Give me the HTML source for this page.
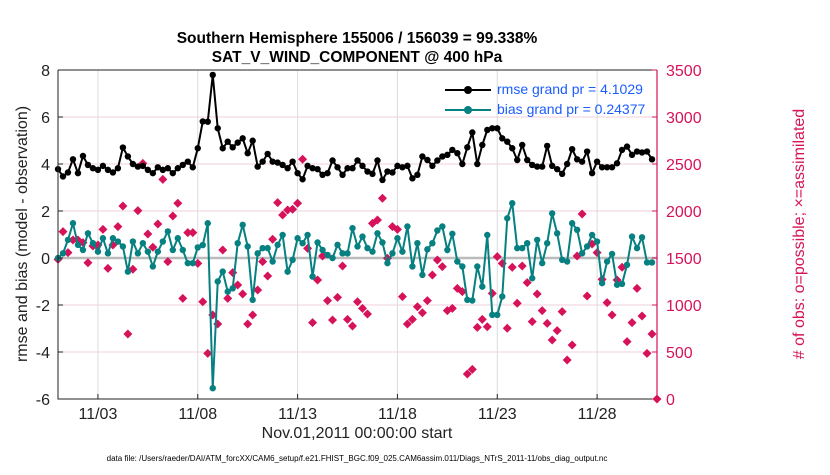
<!DOCTYPE html>
<html><head><meta charset="utf-8"><style>
body{margin:0;background:#fff;width:830px;height:470px;overflow:hidden;font-family:"Liberation Sans",sans-serif}
</style></head><body>
<svg id="c" width="830" height="470" xmlns="http://www.w3.org/2000/svg"></svg>
<script>
const xTickLabels=["11/03","11/08","11/13","11/18","11/23","11/28"];
const xTickDays=[2,7,12,17,22,27];
const yLeftTicks=[-6,-4,-2,0,2,4,6,8];
const yRightTicks=[0,500,1000,1500,2000,2500,3000,3500];
const rmse=[3.78,3.47,3.64,4.20,3.61,4.34,3.96,3.82,3.75,3.92,3.75,3.64,3.82,4.70,4.32,4.00,3.89,3.92,3.75,3.61,3.86,3.75,3.82,3.61,3.82,3.96,4.10,3.86,4.67,5.81,5.8,7.79,5.52,4.67,4.95,4.71,4.91,5.09,4.46,4.99,3.89,4.10,4.43,4.10,4.06,3.96,3.82,4.10,3.61,3.35,3.92,3.82,3.78,3.54,3.61,4.15,3.86,3.54,3.82,3.82,4.15,3.92,3.68,3.58,4.15,3.32,3.68,3.64,3.92,3.86,3.92,3.39,3.54,4.32,4.17,3.92,4.15,4.32,4.39,4.60,4.46,4.00,4.71,5.34,4.00,4.81,5.45,5.52,5.52,5.09,4.95,4.67,4.17,4.81,4.17,3.96,3.89,3.89,4.77,3.92,3.78,3.58,4.00,4.63,4.20,4.10,4.53,3.61,4.10,3.86,3.86,3.86,4.03,4.60,4.74,4.39,4.53,4.49,4.53,4.20];
const bias=[0,0.2,0.77,1.48,0.56,0.34,1.05,0.63,0.27,0.84,0.2,0.84,0.7,0.49,-0.58,0.7,0.2,0.63,0.27,-0.36,0.27,0.7,1.13,0.34,0.84,0.34,-0.22,-0.22,0.45,0.55,1.48,-5.54,-1.0,-0.58,-1.43,-1.29,0.63,1.41,0.49,-1.78,0.2,0.42,0.42,-0.15,0.56,0.98,-0.58,-0.08,0.84,0.63,0.98,-0.79,0.66,0.34,0.13,0,0.56,0.2,0.2,1.27,0.49,0.91,0.42,0.27,1.05,0.66,-0.22,0.2,0.84,0.27,1.34,-0.36,0.63,-0.72,0.37,0.63,1.17,1.34,0.34,1.03,-0.15,-0.36,-1.78,-1.81,-0.36,-1.22,0.98,-2.42,-2.42,-1.64,1.69,2.33,0.42,0.42,0.63,-0.86,0.77,-0.22,0.63,1.9,1.05,-0.08,-0.15,1.48,1.2,0.2,0.49,0.98,0.7,-1.07,-0.15,0.17,-1.14,-1.1,-0.29,0.91,0.42,0.88,-0.19,-0.19];
const obs=[1486,1780,1557,1692,1692,1663,1450,1628,1638,1805,1390,1638,1834,2053,691,1380,2004,2507,1755,1614,1862,2337,1461,1947,2082,1071,1770,1770,1443,1035,486,894,798,1585,1071,1344,1213,1117,798,894,1160,1461,1308,1699,2089,1958,2011,2018,2082,2550,1603,812,1266,1521,1046,840,1081,1415,847,776,1035,964,904,1869,1904,2135,1497,1834,1805,1089,798,847,982,918,1046,1319,1479,1408,940,964,1177,1142,266,315,762,847,769,1124,1514,1443,752,1401,1018,1415,1238,823,1117,940,805,627,727,929,415,574,1521,1968,1096,1649,1557,1273,1025,894,1266,1401,610,812,1177,883,486,691,0];
const X0=58,X1=657,Y0=399,Y1=70;
const xs=d=>X0+d*(X1-X0)/30;
const yL=v=>Y0-(v+6)*(Y0-Y1)/14;
const yR=v=>Y0-v*(Y0-Y1)/3500;
const svg=document.getElementById('c');const NS='http://www.w3.org/2000/svg';
function mk(t,a,p){const e=document.createElementNS(NS,t);for(const k in a)e.setAttribute(k,a[k]);(p||svg).appendChild(e);return e;}
yLeftTicks.forEach(v=>{const l=mk('line',{x1:X0,x2:X1,y1:yL(v),y2:yL(v),stroke:'#f0d0dc','stroke-width':1});

});
xTickDays.forEach(d=>{const l=mk('line',{x1:xs(d),x2:xs(d),y1:Y1,y2:Y0,stroke:'#dcdcdc','stroke-width':1});

});
const z=mk('line',{x1:X0,x2:X1,y1:yL(0),y2:yL(0),stroke:'#bbb','stroke-width':2.5});


obs.forEach((v,i)=>{const x=xs(i/4),y=yR(v);const p=mk('path',{d:`M${x} ${y-4.5}L${x+4.5} ${y}L${x} ${y+4.5}L${x-4.5} ${y}Z`,fill:'#d6135a'});

});
function series(arr,col,name){
 const pl=mk('polyline',{points:arr.map((v,i)=>xs(i/4)+','+yL(v)).join(' '),fill:'none',stroke:col,'stroke-width':2});
 
 
 arr.forEach((v,i)=>{const c=mk('circle',{cx:xs(i/4),cy:yL(v),r:3.2,fill:col});
 
 });
}
series(bias,'#068080','bias');
series(rmse,'#000','rmse');
const fr=mk('path',{d:`M${X0} ${Y1}H${X1}M${X0} ${Y1}V${Y0}H${X1}`,stroke:'#222',fill:'none','stroke-width':1});


const ra=mk('line',{x1:X1,x2:X1,y1:Y1,y2:Y0,stroke:'#d6135a','stroke-width':1.2});


yLeftTicks.forEach(v=>{mk('line',{x1:X0,x2:X0+5,y1:yL(v),y2:yL(v),stroke:'#222'});
 const t=mk('text',{x:X0-8,y:yL(v)+6,'text-anchor':'end','font-size':16,fill:'#222'});t.textContent=v;
 
 });
yRightTicks.forEach(v=>{mk('line',{x1:X1-5,x2:X1,y1:yR(v),y2:yR(v),stroke:'#d6135a'});
 const t=mk('text',{x:X1+9,y:yR(v)+6,'font-size':16,fill:'#d6135a'});t.textContent=v;
 
 });
xTickDays.forEach((d,i)=>{mk('line',{x1:xs(d),x2:xs(d),y1:Y0,y2:Y0-5,stroke:'#222'});
 const t=mk('text',{x:xs(d),y:419,'text-anchor':'middle','font-size':16,fill:'#222'});t.textContent=xTickLabels[i];
 
 });
</script>
<div style="position:absolute;left:0;width:714px;top:29px;text-align:center;font-weight:bold;font-size:15.5px;line-height:19px;color:#000">Southern Hemisphere 155006 / 156039 = 99.338%<br>SAT_V_WIND_COMPONENT @ 400 hPa</div>
<div style="position:absolute;left:23px;top:234px;transform:translate(-50%,-50%) rotate(-90deg);white-space:nowrap;font-size:16px;color:#222">rmse and bias (model - observation)</div>
<div style="position:absolute;left:800px;top:234px;transform:translate(-50%,-50%) rotate(-90deg);white-space:nowrap;font-size:16px;color:#d6135a"># of obs: o=possible; ×=assimilated</div>
<div style="position:absolute;left:0;width:714px;top:425px;text-align:center;font-size:16px;color:#222">Nov.01,2011 00:00:00 start</div>
<div style="position:absolute;left:0;width:714px;top:454px;text-align:center;font-size:8px;color:#000">data file: /Users/raeder/DAI/ATM_forcXX/CAM6_setup/f.e21.FHIST_BGC.f09_025.CAM6assim.011/Diags_NTrS_2011-11/obs_diag_output.nc</div>
<div style="position:absolute;left:445px;top:79px;font-size:14px;color:#1a5cff;line-height:20px">
 <div><span style="display:inline-block;width:46px;height:2px;background:#000;vertical-align:middle;position:relative;margin-right:6px"><span style="position:absolute;left:19px;top:-3px;width:8px;height:8px;border-radius:50%;background:#000"></span></span>rmse grand pr = 4.1029</div>
 <div><span style="display:inline-block;width:46px;height:2px;background:#068080;vertical-align:middle;position:relative;margin-right:6px"><span style="position:absolute;left:19px;top:-3px;width:8px;height:8px;border-radius:50%;background:#068080"></span></span>bias grand pr = 0.24377</div>
</div>
</body></html>
